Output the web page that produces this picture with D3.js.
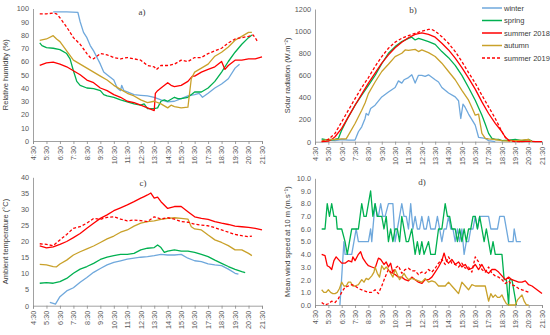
<!DOCTYPE html>
<html>
<head>
<meta charset="utf-8">
<script src="https://cdn.jsdelivr.net/npm/d3@7"></script>
<style>
  body { margin: 0; background: #fff; }
  svg { display: block; font-family: "Liberation Sans", Arial, sans-serif; }
</style>
</head>
<body>
<div class="chart"></div>
<script>
// four panels, time of day on x
const seriesNames = ['winter', 'spring', 'summer 2018', 'autumn', 'summer 2019'];
const seriesColors = ['#6fa8dc', '#00b050', '#ff0000', '#c9a12a', '#ff0000'];
const seriesDashed = [false, false, false, false, true];
const timeTicks = ['4:30','5:30','6:30','7:30','8:30','9:30','10:30','11:30','12:30','13:30',
  '14:30','15:30','16:30','17:30','18:30','19:30','20:30','21:30'];

// a) relative humidity (%)
const rhWinter = [['6:00',97.5],['7:00',97.5],['7:50',97],['8:00',90],['8:15',82],['8:30',78],['8:45',72],['9:00',68],['9:15',63],['9:30',58],['9:45',52],['10:00',50],['10:30',46],['10:45',40],['11:00',38],['11:05',42],['11:15',38],['11:30',37],['12:00',35],['12:30',34.5],['13:00',34],['13:30',33],['14:00',31],['14:30',29.5],['15:00',30],['15:30',32],['16:00',34],['16:30',35],['16:50',36],['17:05',33],['17:30',36],['18:00',40],['18:30',43],['19:00',47],['19:30',55],['19:50',58]];
const rhSpring = [['5:00',74],['5:10',72],['5:30',70.5],['6:00',70],['6:30',69],['7:00',66],['7:15',62],['7:30',53],['7:45',45],['8:00',42],['8:30',40],['9:00',39.5],['9:30',38],['9:45',35],['10:00',34],['10:30',33],['11:00',31],['11:30',29.5],['12:00',28],['12:30',27],['12:45',28],['13:00',24.5],['13:30',24.5],['13:45',25],['14:00',30],['14:15',31],['14:30',30],['15:00',33],['15:15',32],['15:30',32],['16:00',33],['16:30',37],['17:00',37],['17:30',40],['18:00',45],['18:30',52],['19:00',60],['19:30',67],['20:00',73],['20:30',78],['20:45',80]];
const rhSummer18 = [['5:00',57],['5:30',59],['6:00',59.5],['6:30',58],['7:00',56],['7:30',53],['8:00',50],['8:30',46],['9:00',44],['9:30',40],['10:00',38],['10:30',35],['11:00',33],['11:30',30],['12:00',29],['12:30',27],['13:00',25],['13:30',23],['13:35',36],['13:45',38],['14:00',40],['14:30',44],['14:45',42],['15:00',41],['15:30',42],['16:00',45],['16:20',49],['16:30',49],['17:00',52],['17:30',54],['18:00',56],['18:30',60],['18:45',54],['19:00',57],['19:30',61],['20:00',61],['20:30',62],['21:00',62],['21:30',63.5]];
const rhAutumn = [['5:00',76],['5:30',77],['6:00',79.5],['6:15',77],['6:30',75],['7:00',68],['7:30',61],['8:00',58],['8:30',55],['9:00',52],['9:30',49],['10:00',46],['10:30',42],['11:00',39],['11:30',36],['12:00',34],['12:30',31],['13:00',29],['13:30',30],['14:00',28],['14:30',25],['14:45',27],['15:00',26],['15:30',25],['16:00',25.5],['16:15',47],['16:30',52],['17:00',55],['17:30',58],['18:00',64],['18:30',67],['19:00',71],['19:30',76],['20:00',79],['20:30',82],['20:45',82]];
const rhSummer19 = [['5:00',96],['5:30',96],['6:00',96.5],['6:15',96],['6:30',93],['7:00',86],['7:30',78],['8:00',73],['8:30',66],['8:45',63],['9:00',62],['9:30',66],['10:00',65],['10:30',63],['11:00',62],['11:30',63],['12:00',62],['12:30',61],['13:00',57],['13:30',56],['13:40',54],['14:00',57],['14:30',57],['15:00',58],['15:30',61],['16:00',60],['16:30',63],['17:00',63],['17:30',66],['18:00',68],['18:30',70],['19:00',74],['19:30',77],['20:00',78],['20:30',79],['20:50',80],['21:00',78],['21:10',75]];

// b) solar radiation (W.m-2)
const srWinter = [['5:00',20],['5:30',15],['6:00',10],['6:30',20],['7:00',15],['7:30',15],['7:45',90],['8:00',135],['8:15',210],['8:20',255],['8:30',240],['8:40',300],['9:00',330],['9:30',405],['10:00',450],['10:30',490],['10:45',550],['11:00',530],['11:10',560],['11:30',580],['11:45',605],['12:00',530],['12:15',600],['12:30',600],['12:45',590],['13:00',605],['13:30',560],['13:45',540],['14:00',490],['14:30',440],['15:00',405],['15:15',370],['15:25',210],['15:35',340],['15:45',310],['16:00',250],['16:30',150],['16:45',40],['17:00',35],['17:15',30],['17:30',10],['17:45',5],['18:00',0]];
const srSpring = [['5:00',25],['5:30',15],['6:00',20],['6:15',30],['6:30',105],['7:00',225],['7:30',330],['8:00',420],['8:30',510],['9:00',600],['9:30',705],['10:00',800],['10:30',860],['11:00',905],['11:30',935],['11:45',945],['12:00',920],['12:15',935],['12:30',925],['13:00',905],['13:30',880],['14:00',815],['14:30',760],['15:00',690],['15:30',600],['16:00',490],['16:30',375],['17:00',240],['17:15',160],['17:30',75],['17:45',30],['18:00',20],['18:15',20],['18:30',10],['19:00',15],['19:30',20],['20:00',10],['20:30',20],['20:45',5]];
const srSummer18 = [['5:00',0],['5:30',5],['5:45',20],['6:00',45],['6:30',120],['7:00',225],['7:30',330],['8:00',430],['8:30',530],['9:00',620],['9:30',710],['10:00',785],['10:30',850],['11:00',900],['11:30',940],['12:00',970],['12:30',985],['13:00',970],['13:30',945],['14:00',890],['14:30',830],['15:00',755],['15:30',670],['16:00',575],['16:30',475],['17:00',360],['17:30',255],['18:00',165],['18:30',90],['18:45',40],['19:00',15],['19:30',5],['20:00',0],['20:30',5],['21:00',0],['21:30',0]];
const srAutumn = [['5:00',10],['5:30',20],['6:00',20],['6:30',25],['6:50',25],['7:00',60],['7:30',165],['8:00',285],['8:15',350],['8:30',435],['9:00',540],['9:30',635],['10:00',700],['10:30',770],['11:00',800],['11:15',830],['11:30',825],['12:00',835],['12:15',815],['12:30',830],['13:00',805],['13:30',770],['14:00',710],['14:30',635],['15:00',560],['15:30',465],['16:00',375],['16:15',310],['16:30',240],['16:45',250],['17:00',75],['17:15',30],['17:30',25],['18:00',20],['18:30',10],['19:00',5],['19:30',10],['20:00',15],['20:30',20],['20:45',0]];
const srSummer19 = [['5:00',0],['5:30',20],['6:00',75],['6:30',180],['7:00',285],['7:30',390],['8:00',490],['8:30',580],['9:00',680],['9:30',770],['10:00',845],['10:30',900],['11:00',935],['11:30',960],['12:00',980],['12:30',1000],['13:00',1015],['13:15',1015],['13:30',1000],['14:00',950],['14:30',890],['15:00',815],['15:30',725],['16:00',625],['16:30',530],['17:00',420],['17:30',315],['18:00',210],['18:15',150],['18:30',90],['18:45',40],['19:00',10],['19:30',0],['20:00',0]];

// c) ambient temperature (°C)
const atWinter = [['5:45',1],['6:00',0.7],['6:10',0.5],['6:30',2.8],['7:00',4.6],['7:30',5.6],['8:00',7.3],['8:30',8.8],['9:00',10.4],['9:30',11.6],['10:00',12.7],['10:30',13.5],['11:00',14],['11:30',14.5],['12:00',14.8],['12:30',15.1],['13:00',15.3],['13:30',15.6],['14:00',16],['14:30',15.8],['15:00',15.8],['15:30',16],['16:00',14.8],['16:30',14],['17:00',13.7],['17:30',13],['18:00',12.7],['18:30',12.5],['19:00',11.4],['19:30',10.1],['19:45',9.8]];
const atSpring = [['5:00',7],['5:30',7.2],['6:00',7],['6:30',7.5],['7:00',8.5],['7:30',10.1],['8:00',11.4],['8:30',12.2],['9:00',13.2],['9:30',14.4],['10:00',15.1],['10:30',15.6],['11:00',16],['11:30',16],['12:00',16.3],['12:30',17.4],['13:00',17.9],['13:30',18.1],['13:45',18.9],['14:00',18.1],['14:15',16.6],['14:30',17],['15:00',17.4],['15:30',17],['16:00',17],['16:30',16.6],['17:00',16],['17:30',15.3],['18:00',14.2],['18:30',13.2],['19:00',12.2],['19:30',11.3],['20:00',10.6],['20:15',10.3]];
const atSummer18 = [['5:00',18.6],['5:30',18],['6:00',18.3],['6:30',19.1],['7:00',20],['7:30',21.2],['8:00',22.5],['8:30',24.1],['9:00',25.7],['9:30',27.2],['10:00',28.3],['10:30',29.6],['11:00',30.5],['11:30',31.4],['12:00',32.4],['12:30',33.5],['12:45',34],['13:00',34.5],['13:15',35.1],['13:30',33.5],['13:45',33.8],['14:00',32.4],['14:30',30.3],['15:00',30.9],['15:30',30.9],['16:00',29.3],['16:30',27.7],['17:00',27.2],['17:30',26.9],['18:00',26.2],['18:30',25.7],['19:00',25.3],['19:30',24.8],['20:00',24.6],['20:30',24.4],['21:00',24.1],['21:30',23.6]];
const atAutumn = [['5:00',12.9],['5:30',12.7],['6:00',12.2],['6:15',12.1],['6:30',13],['7:00',14.2],['7:30',15.8],['8:00',16.8],['8:30',17.7],['9:00',18.6],['9:30',19.7],['10:00',20.8],['10:30',21.7],['11:00',22.9],['11:30',23.6],['12:00',24.8],['12:30',25.7],['13:00',26.2],['13:30',26.4],['14:00',26.9],['14:30',27.2],['15:00',27.4],['15:30',27.2],['16:00',27],['16:15',24.6],['16:30',23.9],['17:00',23.6],['17:30',22],['18:00',20.5],['18:30',19.7],['19:00',18.7],['19:30',17.4],['20:00',17.4],['20:30',16.3],['20:45',15.6]];
const atSummer19 = [['5:00',19.3],['5:30',19.1],['6:00',18.7],['6:30',20.5],['7:00',22.2],['7:30',24.1],['8:00',24.6],['8:30',25.7],['9:00',27.2],['9:30',26.9],['10:00',27.5],['10:30',27.7],['11:00',27],['11:30',26.4],['12:00',26.7],['12:30',26.5],['13:00',26.2],['13:30',27.7],['14:00',27],['14:30',27.4],['15:00',27],['15:30',26.2],['16:00',26],['16:30',25.4],['17:00',25.1],['17:30',24.9],['18:00',24.3],['18:30',23.6],['19:00',22.9],['19:30',22.2],['20:00',21.8],['20:30',21.5],['20:45',21.7]];

// d) mean wind speed at 10 m (m.s-1)
const wsWinter = [['6:22',0],['6:40',5],['6:45',4],['7:00',4],['7:15',4],['7:25',5],['7:35',6],['7:45',5],['8:00',5],['8:15',5],['8:30',5],['8:40',6],['8:45',5],['9:00',8],['9:10',7],['9:15',7],['9:25',8],['9:35',7],['9:45',7],['10:00',8],['10:10',8],['10:20',8],['10:30',5],['10:40',6],['10:50',7],['11:00',8],['11:10',7],['11:20',7],['11:30',6],['11:40',8],['11:50',6],['12:00',7],['12:10',6],['12:20',6],['12:30',7],['12:40',6],['12:50',6],['13:00',7],['13:10',6],['13:20',6],['13:30',6],['13:40',7],['13:50',6],['14:00',5],['14:10',6],['14:20',6],['14:30',7],['14:40',6],['14:50',6],['15:00',5],['15:10',6],['15:20',5],['15:30',6],['15:40',4],['15:50',5],['16:00',5],['16:10',6],['16:20',6],['16:30',7],['16:40',6],['16:50',7],['17:00',7],['17:15',7],['17:30',7],['17:40',6],['17:50',6],['18:00',6],['18:10',6],['18:20',7],['18:30',7],['18:40',7],['18:50',6],['19:00',5],['19:10',5],['19:20',5],['19:25',6],['19:35',5],['19:45',5],['19:55',5]];
const wsSpring = [['5:00',6],['5:15',6],['5:25',8],['5:35',7],['5:45',8],['5:55',7],['6:05',7],['6:10',6],['6:30',6],['6:45',5],['6:55',4],['7:05',5],['7:15',6],['7:30',6],['7:45',6],['8:00',8],['8:10',7],['8:20',7],['8:30',8],['8:40',9],['8:50',7],['9:00',8],['9:10',7],['9:20',7],['9:30',7],['9:40',6],['9:50',7],['10:00',5],['10:10',6],['10:20',5],['10:30',6],['10:40',6],['10:50',5],['11:00',7],['11:10',6],['11:20',5],['11:30',5],['11:45',6],['12:00',4],['12:10',5],['12:20',4],['12:30',5],['12:40',4],['13:00',5],['13:10',4],['13:30',4],['13:45',6],['14:00',6],['14:15',8],['14:25',7],['14:35',7],['14:45',6],['15:00',6],['15:10',5],['15:20',6],['15:30',5],['15:40',6],['15:50',5],['16:00',6],['16:10',6],['16:20',7],['16:30',7],['16:40',6],['16:50',7],['17:00',6],['17:10',5],['17:20',6],['17:30',5],['17:40',4],['17:50',5],['18:00',4],['18:15',4],['18:30',4],['18:40',2],['18:50',2],['19:00',0],['19:05',2],['19:15',2],['19:25',1],['19:35',0]];
const wsSummer18 = [['5:00',4],['5:15',3.9],['5:25',3.1],['5:35',3],['5:45',2.8],['5:55',3.5],['6:05',3.8],['6:15',3.6],['6:30',3.3],['6:45',3.3],['7:00',3.5],['7:15',3.4],['7:20',3.8],['7:30',3.5],['7:45',4],['7:55',4.2],['8:05',3.7],['8:20',3.3],['8:30',3.1],['8:45',3],['9:00',2.9],['9:15',3.7],['9:25',3.6],['9:40',3.2],['9:50',3.4],['10:00',3],['10:10',3.3],['10:20',2.5],['10:30',2.4],['10:45',2.2],['11:00',2.2],['11:15',2],['11:30',1.9],['11:45',2.2],['12:00',2],['12:15',1.8],['12:30',1.7],['12:45',2],['13:00',2],['13:15',2.2],['13:30',2.6],['13:45',3],['14:00',3.5],['14:10',4.1],['14:20',3.5],['14:30',3.3],['14:45',3.6],['15:00',3.2],['15:15',3.4],['15:30',3],['15:45',3.2],['16:00',2.8],['16:15',2.9],['16:30',3.2],['16:45',2.8],['17:00',3.2],['17:15',2.7],['17:30',2.5],['17:45',2.8],['18:00',2.8],['18:15',2.6],['18:30',2.3],['18:45',2],['19:00',2.2],['19:15',2],['19:30',1.9],['19:45',1.8],['20:00',1.8],['20:15',1.9],['20:30',1.6],['20:45',1.5],['21:00',1.3],['21:15',1.1],['21:30',0.9]];
const wsAutumn = [['5:00',1.2],['5:10',1],['5:20',1],['5:30',1.2],['5:40',1],['5:50',0.9],['6:00',0.9],['6:10',1],['6:20',1.3],['6:30',1.8],['6:40',1.5],['6:50',1.5],['7:00',1.8],['7:10',1.8],['7:20',1.5],['7:30',1.5],['7:45',1.6],['8:00',2],['8:10',1.8],['8:20',2.1],['8:30',2],['8:45',2.3],['8:55',2.6],['9:00',3],['9:10',2.5],['9:20',2.2],['9:30',3.1],['9:40',2.8],['9:50',3],['10:00',2.8],['10:10',2.5],['10:20',2.2],['10:30',2.8],['10:40',2.4],['10:50',2],['11:00',2.2],['11:10',2.5],['11:20',2.2],['11:30',2],['11:45',2.1],['12:00',2],['12:15',1.9],['12:30',1.8],['12:45',2.1],['13:00',1.8],['13:15',1.9],['13:30',1.8],['13:45',1.5],['14:00',1.5],['14:15',1.5],['14:30',1.8],['14:45',1.5],['15:00',1.2],['15:15',0.9],['15:30',1.8],['15:45',1.5],['16:00',1.2],['16:15',1.6],['16:30',1.5],['16:45',1.5],['17:00',1.5],['17:15',1.5],['17:30',0.3],['17:40',0.9],['17:50',0.6],['18:00',0.8],['18:10',0.6],['18:20',0.6],['18:30',0.8],['18:40',0.4],['18:50',0.1],['19:00',0],['19:10',0],['19:20',0],['19:30',0],['19:40',0.4],['19:50',0.6],['20:00',0.8],['20:10',0.3],['20:20',0],['20:30',0]];
const wsSummer19 = [['5:00',0.2],['5:15',0],['5:30',0.1],['5:45',0.3],['6:00',0.2],['6:15',0.5],['6:30',1],['6:45',1.4],['7:00',1.5],['7:15',1.6],['7:30',1.5],['7:45',1.3],['8:00',1.2],['8:15',1.1],['8:30',1],['8:45',1],['9:00',1.2],['9:15',0.9],['9:30',1.5],['9:45',2.2],['10:00',2.8],['10:15',2.5],['10:30',2.9],['10:45',3.1],['11:00',2.5],['11:15',2.8],['11:30',2.9],['11:45',2.7],['12:00',2.7],['12:15',2.4],['12:30',2.6],['12:45',2.5],['13:00',2.8],['13:15',2.6],['13:30',2.9],['13:45',3.3],['14:00',3.6],['14:15',3.2],['14:30',3.8],['14:45',3.3],['15:00',3.2],['15:15',3],['15:30',3.3],['15:45',2.9],['16:00',3],['16:15',2.6],['16:30',3.8],['16:45',3.4],['17:00',2.8],['17:15',2.6],['17:30',3],['17:45',2.5],['18:00',2.3],['18:15',2.2],['18:30',2],['18:45',1.7],['19:00',1.9],['19:15',1.6],['19:30',1.5],['19:45',1.3],['20:00',1.2],['20:15',1.1],['20:30',1]];

const toMin = s => { const p = s.split(':'); return +p[0] * 60 + +p[1]; };

const svg = d3.select('.chart')
	.append('svg')
		.attr('width', 550)
		.attr('height', 335);

const panels = [
	{ left: 33, right: 262, top: 8.5, bottom: 141, max: 100, step: 10, fmt: d3.format('d'),
	  ytitle: 'Relative humidity (%)', tag: 'a)', tagX: 142, tagY: 15,
	  series: [rhWinter, rhSpring, rhSummer18, rhAutumn, rhSummer19] },
	{ left: 315, right: 542, top: 9, bottom: 141.7, max: 1200, step: 200, fmt: d3.format('d'),
	  ytitle: 'Solar radiation (W.m\u207B\u00B2)', tag: 'b)', tagX: 413, tagY: 13,
	  series: [srWinter, srSpring, srSummer18, srAutumn, srSummer19] },
	{ left: 33, right: 262, top: 177.3, bottom: 305.7, max: 40, step: 5, fmt: d3.format('d'),
	  ytitle: 'Ambient temperature (\u00B0C)', tag: 'c)', tagX: 143, tagY: 186,
	  series: [atWinter, atSpring, atSummer18, atAutumn, atSummer19] },
	{ left: 315, right: 542, top: 178.3, bottom: 305, max: 10, step: 1, fmt: d3.format('.1f'),
	  ytitle: 'Mean wind speed at 10 m (m.s\u207B\u00B9)', tag: 'd)', tagX: 422, tagY: 185,
	  series: [wsWinter, wsSpring, wsSummer18, wsAutumn, wsSummer19] }
];

panels.forEach(p => {
	const x = d3.scaleLinear().domain([toMin('4:30'), toMin('21:30')]).range([p.left, p.right]);
	const y = d3.scaleLinear().domain([0, p.max]).range([p.bottom, p.top]);
	const g = svg.append('g');

	// y axis
	const yAxis = d3.axisLeft(y).tickValues(d3.range(0, p.max + p.step / 2, p.step))
		.tickFormat(p.fmt).tickSize(0).tickPadding(4);
	const ya = g.append('g').attr('transform', `translate(${p.left},0)`).call(yAxis);
	ya.select('.domain').attr('stroke', '#898989').attr('stroke-width', 0.8);
	ya.selectAll('text').attr('fill', '#595959').style('font-size', '7.3px');

	// x axis
	const xAxis = d3.axisBottom(x).tickValues(timeTicks.map(toMin))
		.tickFormat((d, i) => timeTicks[i]).tickSize(3).tickPadding(2);
	const xa = g.append('g').attr('transform', `translate(0,${p.bottom})`).call(xAxis);
	xa.select('.domain').attr('stroke', '#898989').attr('stroke-width', 0.8);
	xa.selectAll('line').attr('stroke', '#898989').attr('stroke-width', 0.8);
	xa.selectAll('text')
		.attr('fill', '#595959')
		.style('font-size', '7.3px')
		.style('text-anchor', 'end')
		.attr('dy', '0.32em')
		.attr('transform', 'rotate(-90)')
		.attr('x', -5)
		.attr('y', 0);

	// y title
	g.append('text')
		.attr('transform', `translate(${p.left - 25},${(p.top + p.bottom) / 2}) rotate(-90)`)
		.attr('text-anchor', 'middle')
		.attr('fill', '#404040')
		.style('font-size', '7.5px')
		.text(p.ytitle);

	// panel tag
	g.append('text')
		.attr('x', p.tagX).attr('y', p.tagY)
		.attr('text-anchor', 'middle')
		.style('font-family', '"Liberation Serif", "Times New Roman", serif')
		.style('font-size', '9px')
		.attr('fill', '#404040')
		.text(p.tag);

	const line = d3.line().x(d => x(toMin(d[0]))).y(d => y(d[1]));
	p.series.forEach((s, i) => {
		g.append('path')
			.datum(s)
			.attr('fill', 'none')
			.attr('stroke', seriesColors[i])
			.attr('stroke-width', 1.3)
			.attr('stroke-linejoin', 'round')
			.attr('stroke-dasharray', seriesDashed[i] ? '3,2' : null)
			.attr('d', line);
	});
});

// legend (in panel b)
const legend = svg.append('g');
seriesNames.forEach((n, i) => {
	const ly = 8 + i * 12.5;
	legend.append('line')
		.attr('x1', 482).attr('x2', 502).attr('y1', ly).attr('y2', ly)
		.attr('stroke', seriesColors[i]).attr('stroke-width', 1.5)
		.attr('stroke-dasharray', seriesDashed[i] ? '3,2' : null);
	legend.append('text')
		.attr('x', 504).attr('y', ly).attr('dy', '0.35em')
		.attr('fill', '#404040')
		.style('font-size', '7.5px')
		.text(n);
});
</script>
</body>
</html>
